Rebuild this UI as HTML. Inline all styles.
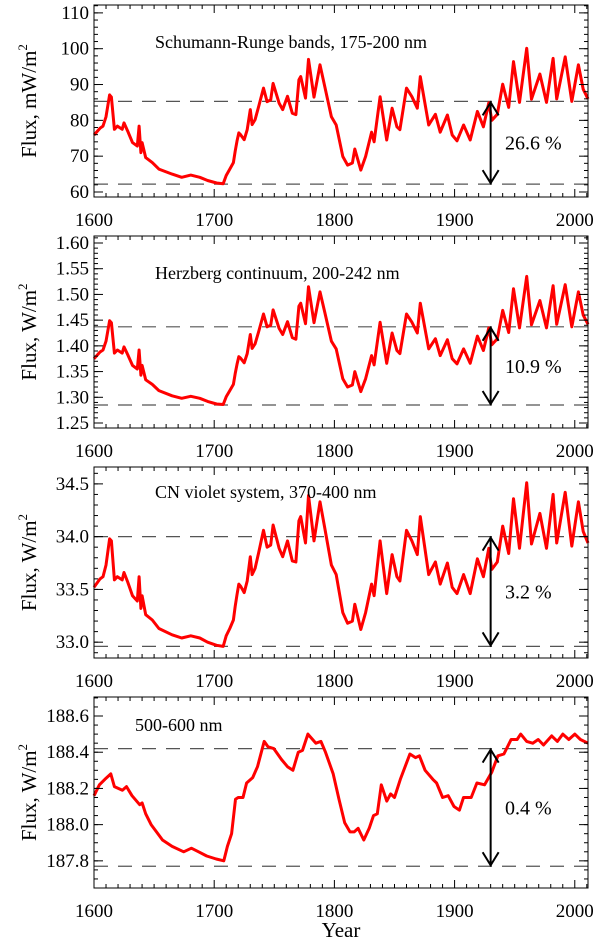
<!DOCTYPE html>
<html><head><meta charset="utf-8">
<style>
html,body{margin:0;padding:0;background:#fff;}
svg{display:block;}
text{font-family:"Liberation Serif",serif;fill:#000;}
</style></head>
<body>
<svg id="fig" width="600" height="941" viewBox="0 0 600 941" xmlns="http://www.w3.org/2000/svg"></svg>
<script>
const years=[1600,1605,1607.5,1610,1613,1614.5,1617,1619.5,1623.5,1625,1628,1632,1636,1637.5,1639,1640,1643,1648.5,1654,1665,1673,1680.5,1688,1694.5,1702,1707.5,1710,1713,1716,1717.5,1719,1720.5,1722,1725,1727.5,1730,1731.5,1734,1737,1741,1744,1747,1749,1754,1757,1761,1765,1768,1770.5,1772,1776,1778.5,1783,1788,1792,1797.5,1801.5,1807,1811,1815,1817,1822,1826,1831,1833,1838,1843.5,1848,1852,1854.5,1860,1864.5,1869,1871.5,1878.5,1884,1888,1894,1898,1902,1907.5,1913,1919,1924,1928.5,1931,1935.5,1940,1945,1949,1954,1960,1964,1971,1976.5,1982,1985,1992,1997.5,2003,2007,2011];
const schumannRunge=[75.9,77.8,78.4,81,87.1,86.5,77.5,78.4,77.5,79.3,77,73.8,72.8,78.4,71,73.8,69.6,68.2,66.4,65,64.1,64.7,64.1,63.2,62.5,62.3,64.6,66.4,68.2,71.4,74.2,76.5,76,74.6,77.4,83,78.8,80.2,83.9,89,85.2,85.7,90.3,84.8,83,86.7,82,81.6,91.3,92.2,86.2,97,86.5,95.5,89.4,81,78.7,69.9,67.5,68.1,72,66.1,69.9,76.7,74,86.6,74.5,83.4,78.2,77.4,89,86.6,83.4,92.2,78.7,81.7,76.7,81.5,75.9,74.3,78.7,74.5,82.5,78.2,84.9,80,81.7,90.1,83.6,96.4,85,100.1,85.9,92.9,85,97.3,86,97.7,85.3,95.5,88.7,86];
const herzberg=[1.375,1.388,1.392,1.409,1.449,1.445,1.386,1.392,1.386,1.398,1.383,1.362,1.355,1.392,1.343,1.362,1.334,1.325,1.313,1.303,1.298,1.302,1.298,1.292,1.287,1.286,1.301,1.313,1.325,1.346,1.364,1.379,1.376,1.367,1.385,1.422,1.395,1.404,1.428,1.462,1.437,1.440,1.470,1.434,1.422,1.447,1.416,1.413,1.477,1.483,1.443,1.515,1.445,1.505,1.465,1.409,1.394,1.336,1.320,1.324,1.350,1.311,1.336,1.381,1.363,1.446,1.366,1.425,1.391,1.385,1.462,1.446,1.425,1.483,1.394,1.414,1.381,1.412,1.375,1.365,1.394,1.366,1.419,1.391,1.435,1.402,1.414,1.469,1.426,1.511,1.435,1.535,1.441,1.488,1.435,1.517,1.442,1.519,1.437,1.505,1.460,1.442];
const cnViolet=[33.52,33.60,33.62,33.73,33.98,33.96,33.59,33.62,33.59,33.66,33.57,33.44,33.39,33.62,33.32,33.44,33.26,33.21,33.13,33.07,33.04,33.06,33.04,33.00,32.97,32.96,33.06,33.13,33.21,33.34,33.45,33.55,33.53,33.47,33.58,33.81,33.64,33.70,33.85,34.06,33.90,33.92,34.11,33.89,33.81,33.96,33.77,33.76,34.15,34.19,33.94,34.39,33.96,34.33,34.08,33.73,33.64,33.28,33.18,33.20,33.36,33.12,33.28,33.55,33.44,33.96,33.46,33.83,33.62,33.58,34.06,33.96,33.83,34.19,33.64,33.76,33.55,33.75,33.52,33.46,33.64,33.46,33.79,33.62,33.89,33.69,33.76,34.10,33.84,34.36,33.89,34.51,33.93,34.22,33.89,34.40,33.94,34.42,33.91,34.33,34.05,33.94];
const visYears=[1600,1604.5,1609,1614,1617,1623.6,1627,1631.6,1638,1640,1643,1647.5,1652,1657,1665,1674.6,1681,1687,1693.8,1701.7,1708,1711,1714.5,1717.7,1720,1724,1727,1732,1736,1741.6,1744.8,1749.6,1756,1761,1765.5,1770,1773.5,1778,1784.6,1788.8,1792.6,1799,1803.8,1808.6,1813,1816.5,1819.7,1824.5,1829,1832.5,1835.7,1839,1843.6,1846.8,1850,1854.8,1862.8,1867.5,1870.7,1875.5,1882,1885,1890,1894.7,1899.5,1904,1907.4,1913.8,1918.6,1925,1931,1936,1941,1947,1952,1955,1960,1965,1969.6,1974,1980.8,1985.5,1990,1995,2000,2004.7,2011];
const visible=[188.16,188.22,188.25,188.28,188.21,188.19,188.21,188.16,188.11,188.12,188.06,188.00,187.96,187.915,187.88,187.85,187.87,187.85,187.827,187.81,187.80,187.88,187.95,188.14,188.15,188.15,188.23,188.26,188.32,188.46,188.43,188.42,188.36,188.32,188.30,188.40,188.41,188.50,188.45,188.46,188.40,188.28,188.14,188.01,187.96,187.96,187.98,187.915,187.98,188.05,188.06,188.22,188.13,188.17,188.15,188.25,188.39,188.37,188.38,188.30,188.25,188.23,188.15,188.16,188.10,188.08,188.15,188.15,188.23,188.22,188.29,188.38,188.39,188.47,188.47,188.50,188.46,188.45,188.47,188.44,188.49,188.46,188.50,188.47,188.50,188.47,188.45];
const yTicks1=[60,70,80,90,100,110], yTicks2=[1.25,1.30,1.35,1.40,1.45,1.50,1.55,1.60], yTicks3=[33.0,33.5,34.0,34.5], yTicks4=[187.8,188.0,188.2,188.4,188.6];
const xTicks=[1600,1700,1800,1900,2000];
const refLines1=[85.3,62.2], refLines2=[1.437,1.285], refLines3=[34.0,32.96], refLines4=[188.42,187.77];

const NS="http://www.w3.org/2000/svg";
const svg=document.getElementById('fig');
function mk(tag,attrs,parent){const e=document.createElementNS(NS,tag);for(const k in attrs)e.setAttribute(k,attrs[k]);(parent||svg).appendChild(e);return e;}
const L=94,R=588,X0=1600,X1=2011;
const xs=v=>L+(v-X0)/(X1-X0)*(R-L);
const panels=[
 {name:'schumann-runge',top:5,bot:197,ymin:58.6,ymax:112.2,ticks:yTicks1,dec:0,minor:2,xs:years,ys:schumannRunge,ref:refLines1,unit:'mW/m',title:'Schumann-Runge bands, 175-200 nm',tx:155,ty:48,pct:'26.6 %'},
 {name:'herzberg',top:236,bot:428,ymin:1.2403,ymax:1.6136,ticks:yTicks2,dec:2,minor:0.01,xs:years,ys:herzberg,ref:refLines2,unit:'W/m',title:'Herzberg continuum, 200-242 nm',tx:155,ty:279,pct:'10.9 %'},
 {name:'cn-violet',top:467,bot:658,ymin:32.85,ymax:34.66,ticks:yTicks3,dec:1,minor:0.1,xs:years,ys:cnViolet,ref:refLines3,unit:'W/m',title:'CN violet system, 370-400 nm',tx:155,ty:498,pct:'3.2 %'},
 {name:'visible-500-600',top:697,bot:888,ymin:187.65,ymax:188.705,ticks:yTicks4,dec:1,minor:0.05,xs:visYears,ys:visible,ref:refLines4,unit:'W/m',title:'500-600 nm',tx:135,ty:731,pct:'0.4 %'}
];
panels.forEach((p,i)=>{
 const ys=v=>p.bot-(v-p.ymin)/(p.ymax-p.ymin)*(p.bot-p.top);
 const g=mk('g',{});
 
 
 // reference dashed lines
 p.ref.forEach((r,j)=>{
  const ln=mk('line',{x1:L,x2:R,y1:ys(r),y2:ys(r),stroke:'#555','stroke-width':1.2,'stroke-dasharray':'14,10'},g);
  
  
 });
 // series
 let d='';p.xs.forEach((x,k)=>{d+=(k?'L':'M')+xs(x).toFixed(1)+','+ys(p.ys[k]).toFixed(1);});
 const path=mk('path',{d:d,fill:'none',stroke:'#ff0000','stroke-width':3,'stroke-linejoin':'round'},g);
 
 
 // frame
 const fr=mk('rect',{x:L,y:p.top,width:R-L,height:p.bot-p.top,fill:'none',stroke:'#000','stroke-width':1},g);
 
 
 // x ticks
 for(let yr=1600;yr<=2010;yr+=10){
  const len=(yr%100===0)?8:4;const x=xs(yr);
  mk('line',{x1:x,x2:x,y1:p.bot,y2:p.bot-len,stroke:'#000','stroke-width':1},g);
  mk('line',{x1:x,x2:x,y1:p.top,y2:p.top+len,stroke:'#000','stroke-width':1},g);
 }
 xTicks.forEach(t=>{
  const tx=mk('text',{x:xs(t),y:p.bot+29,'text-anchor':'middle','font-size':19},g);
  tx.textContent=t;
  
  
 });
 // y minor ticks
 const m0=Math.ceil(p.ymin/p.minor-1e-6);
 for(let k=m0;k*p.minor<=p.ymax;k++){
  const v=k*p.minor;const y=ys(v);
  mk('line',{x1:L,x2:L+4,y1:y,y2:y,stroke:'#000','stroke-width':1},g);
  mk('line',{x1:R,x2:R-4,y1:y,y2:y,stroke:'#000','stroke-width':1},g);
 }
 p.ticks.forEach(t=>{
  const y=ys(t);
  mk('line',{x1:L,x2:L+9,y1:y,y2:y,stroke:'#000','stroke-width':1},g);
  mk('line',{x1:R,x2:R-9,y1:y,y2:y,stroke:'#000','stroke-width':1},g);
  const tx=mk('text',{x:L-5,y:y+6,'text-anchor':'end','font-size':19},g);
  tx.textContent=t.toFixed(p.dec);
  
  
 });
 // y title
 const cy=(p.top+p.bot)/2;
 const yt=mk('text',{x:0,y:0,'text-anchor':'middle','font-size':21,transform:'translate(36,'+cy+') rotate(-90)'},g);
 
 
 yt.appendChild(document.createTextNode('Flux, '+p.unit));
 const sup=mk('tspan',{dy:-9,'font-size':13},yt);sup.textContent='2';
 // title
 const tt=mk('text',{x:p.tx,y:p.ty,'font-size':18},g);
 tt.textContent=p.title;
 
 
 // arrow
 const ax=xs(1930),ya=ys(p.ref[0]),yb=ys(p.ref[1]);
 const ar=mk('path',{d:`M${ax},${ya}L${ax},${yb}M${ax-8},${ya+14}L${ax},${ya+1}L${ax+8},${ya+14}M${ax-8},${yb-14}L${ax},${yb-1}L${ax+8},${yb-14}`,fill:'none',stroke:'#000','stroke-width':2},g);
 
 
 const pt=mk('text',{x:505,y:(ya+yb)/2+7,'font-size':20},g);
 pt.textContent=p.pct;
 
 
});
const xt=mk('text',{x:341,y:937,'text-anchor':'middle','font-size':21});
xt.textContent='Year';


</script>
</body></html>
